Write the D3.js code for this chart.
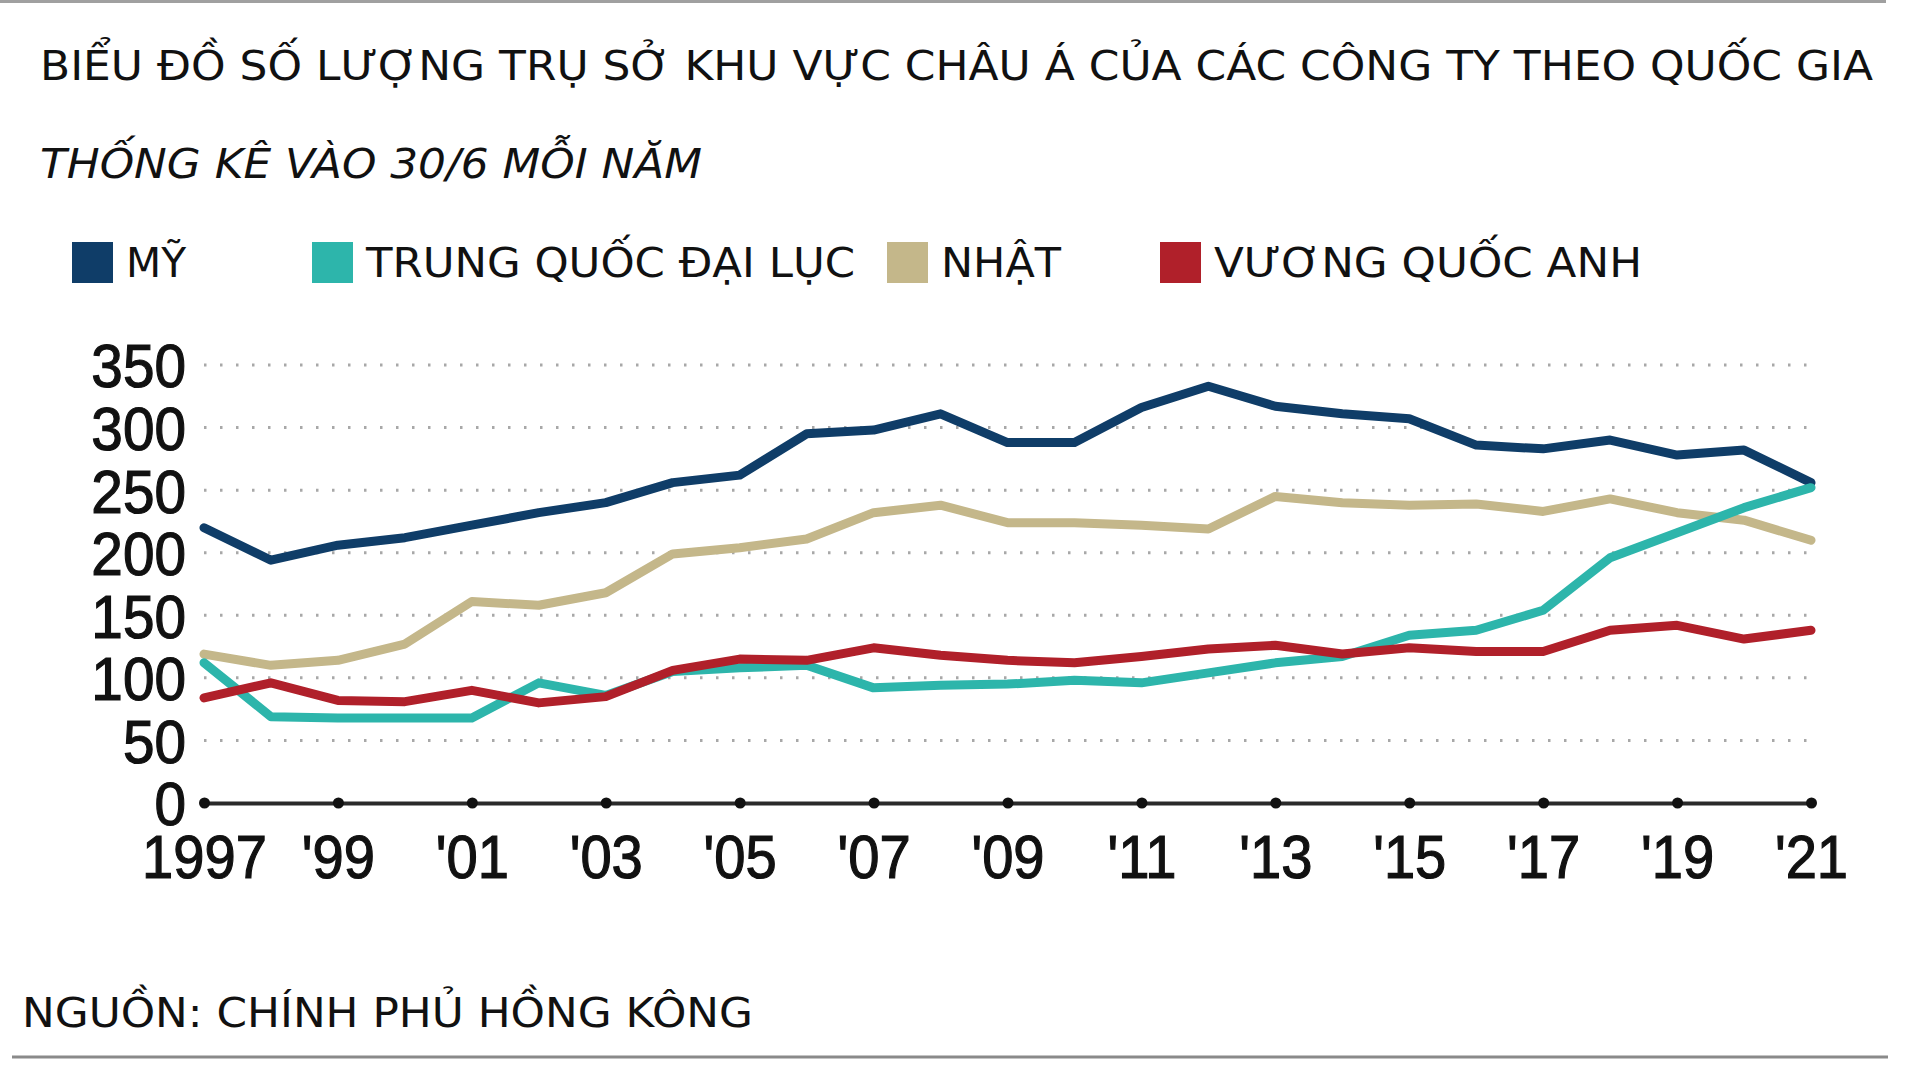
<!DOCTYPE html>
<html>
<head>
<meta charset="utf-8">
<script src="https://cdn.jsdelivr.net/npm/d3@7"></script>
<style>
  html, body { margin: 0; padding: 0; background: #ffffff; }
  svg { display: block; }
</style>
</head>
<body>
<svg id="chart" width="1920" height="1080"></svg>
<script>
const title = "BIỂU ĐỒ SỐ LƯỢNG TRỤ SỞ KHU VỰC CHÂU Á CỦA CÁC CÔNG TY THEO QUỐC GIA";
const subtitle = "THỐNG KÊ VÀO 30/6 MỖI NĂM";
const source = "NGUỒN: CHÍNH PHỦ HỒNG KÔNG";

const years = [1997,1998,1999,2000,2001,2002,2003,2004,2005,2006,2007,2008,2009,2010,2011,2012,2013,2014,2015,2016,2017,2018,2019,2020,2021];
const seriesNames = ["MỸ", "TRUNG QUỐC ĐẠI LỤC", "NHẬT", "VƯƠNG QUỐC ANH"];
const seriesColors = ["#0f3d68", "#2db5ab", "#c4b78a", "#b0202a"];
const usValues    = [220,194,206,212,222,232,240,256,262,295,298,311,288,288,316,333,317,311,307,286,283,290,278,282,256];
const chinaValues = [112,69,68,68,68,96,86,105,108,110,92,94,95,98,96,104,112,117,134,138,154,196,216,236,252];
const japanValues = [119,110,114,127,161,158,168,199,204,211,232,238,224,224,222,219,245,240,238,239,233,243,232,226,210];
const ukValues    = [84,96,82,81,90,80,85,106,115,114,124,118,114,112,117,123,126,119,124,121,121,138,142,131,138];
const yTicks = [0,50,100,150,200,250,300,350];
const xTickYears = [1997,1999,2001,2003,2005,2007,2009,2011,2013,2015,2017,2019,2021];
const xTickLabels = ["1997","'99","'01","'03","'05","'07","'09","'11","'13","'15","'17","'19","'21"];

const allValues = [usValues, chinaValues, japanValues, ukValues];

const svg = d3.select("#chart");
const textFont = "'DejaVu Sans', sans-serif";
const axisFont = "'Liberation Sans', Arial, sans-serif";

// frame lines
svg.append("line").attr("x1", 0).attr("x2", 1886).attr("y1", 1.5).attr("y2", 1.5)
  .attr("stroke", "#a0a0a0").attr("stroke-width", 3);
svg.append("line").attr("x1", 12).attr("x2", 1888).attr("y1", 1057).attr("y2", 1057)
  .attr("stroke", "#8a8a8a").attr("stroke-width", 3);

// title & subtitle
svg.append("text").attr("x", 40).attr("y", 80).text(title)
  .attr("font-family", textFont).attr("font-size", 41).attr("fill", "#111")
  .attr("textLength", 1833).attr("lengthAdjust", "spacingAndGlyphs");
svg.append("text").attr("x", 40).attr("y", 178).text(subtitle)
  .attr("font-family", textFont).attr("font-size", 41).attr("font-style", "italic").attr("fill", "#111")
  .attr("textLength", 662).attr("lengthAdjust", "spacingAndGlyphs");

// legend
const legendX = [72, 312, 887, 1160];
const legendTextW = [60, 489, 120, 428];
const legend = svg.append("g");
seriesNames.forEach((name, i) => {
  legend.append("rect").attr("x", legendX[i]).attr("y", 242).attr("width", 41).attr("height", 41)
    .attr("fill", seriesColors[i]);
  legend.append("text").attr("x", legendX[i] + 54).attr("y", 277).text(name)
    .attr("font-family", textFont).attr("font-size", 41).attr("fill", "#111")
    .attr("textLength", legendTextW[i]).attr("lengthAdjust", "spacingAndGlyphs");
});

// scales
const x = d3.scaleLinear().domain([1997, 2021]).range([204, 1811]);
const y = d3.scaleLinear().domain([0, 350]).range([803, 365]);

// gridlines
const grid = svg.append("g");
grid.selectAll("line").data(yTicks.filter(d => d > 0)).join("line")
  .attr("x1", x(1997)).attr("x2", x(2021))
  .attr("y1", d => y(d)).attr("y2", d => y(d))
  .attr("stroke", "#a8a8a8").attr("stroke-width", 3)
  .attr("stroke-dasharray", "2.5 13.5");

function condense(sel, factor) {
  sel.each(function() {
    const w = this.getComputedTextLength();
    d3.select(this).attr("textLength", w * factor).attr("lengthAdjust", "spacingAndGlyphs");
  });
}

// y axis labels
const yAxis = d3.axisLeft(y).tickValues(yTicks).tickSize(0).tickPadding(0).tickFormat(d3.format("d"));
const yg = svg.append("g").attr("transform", "translate(186,0)").call(yAxis);
yg.select(".domain").remove();
yg.selectAll("text")
  .attr("font-family", axisFont).attr("font-size", 61).attr("fill", "#111")
  .attr("stroke", "#111").attr("stroke-width", 1.2)
  .attr("dy", "0.36em");
condense(yg.selectAll("text"), 0.93);

// x axis
const xAxis = d3.axisBottom(x).tickValues(xTickYears).tickSize(0).tickPadding(0)
  .tickFormat((d, i) => xTickLabels[i]);
const xg = svg.append("g").attr("transform", `translate(0,${y(0)})`).call(xAxis);
xg.select(".domain").attr("stroke", "#2a2a2a").attr("stroke-width", 4);
xg.selectAll(".tick").append("circle").attr("r", 5.5).attr("fill", "#111");
xg.selectAll("text")
  .attr("font-family", axisFont).attr("font-size", 61).attr("fill", "#111")
  .attr("stroke", "#111").attr("stroke-width", 1.2)
  .attr("y", 75).attr("dy", 0);
condense(xg.selectAll("text"), 0.92);

// lines
const line = d3.line().x((d, i) => x(years[i])).y(d => y(d));
const order = [0, 2, 1, 3];
svg.append("g").selectAll("path").data(order).join("path")
  .attr("d", i => line(allValues[i]))
  .attr("fill", "none")
  .attr("stroke", i => seriesColors[i])
  .attr("stroke-width", 9)
  .attr("stroke-linejoin", "round")
  .attr("stroke-linecap", "round");

// source
svg.append("text").attr("x", 22).attr("y", 1027).text(source)
  .attr("font-family", textFont).attr("font-size", 41).attr("fill", "#111")
  .attr("textLength", 731).attr("lengthAdjust", "spacingAndGlyphs");
</script>
</body>
</html>
